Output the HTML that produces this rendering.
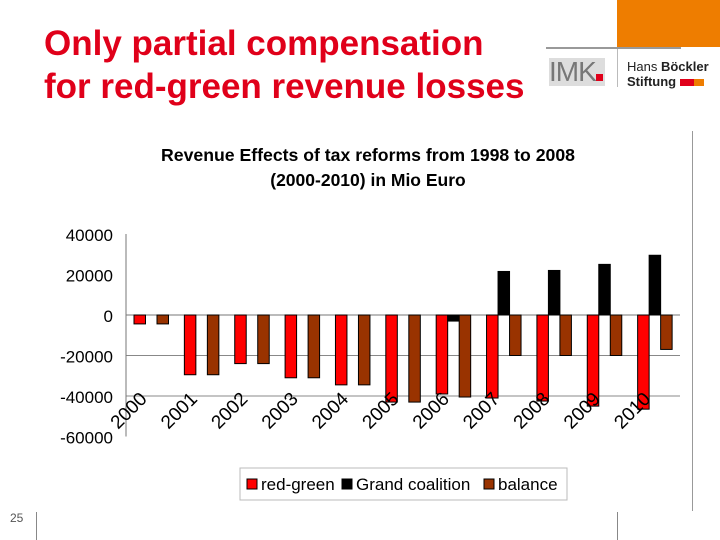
<!DOCTYPE html>
<html><head><meta charset="utf-8"><style>
body{margin:0;width:720px;height:540px;background:#fff;position:relative;overflow:hidden;font-family:"Liberation Sans",Arial,sans-serif}
.abs{position:absolute}
</style></head><body>
<div class="abs" style="left:44px;top:22px;font-size:35px;font-weight:bold;color:#e0001a;line-height:43px">Only partial compensation<br>for red-green revenue losses</div>
<div class="abs" style="left:617px;top:0;width:103px;height:47px;background:#ee7d00"></div>
<div class="abs" style="left:546px;top:47px;width:135px;height:2px;background:#999"></div>
<div class="abs" style="left:617px;top:49px;width:1px;height:38px;background:#bbb"></div>
<div class="abs" style="left:549px;top:58px;width:56px;height:28px;background:#ddd;font-size:28px;color:#777;line-height:28px;letter-spacing:-1px">IMK<span style="display:inline-block;width:7px;height:7px;background:#e0001a"></span></div>
<div class="abs" style="left:627px;top:59px;font-size:13px;line-height:15px;color:#222">Hans <b>Böckler</b><br><b>Stiftung</b> <span style="display:inline-block;width:14px;height:7px;background:#e0001a"></span><span style="display:inline-block;width:10px;height:7px;background:#ee7d00"></span></div>
<div class="abs" style="left:692px;top:131px;width:1px;height:380px;background:#999"></div>
<div class="abs" style="left:10px;top:511px;font-size:12px;color:#555">25</div>
<div class="abs" style="left:36px;top:512px;width:1px;height:28px;background:#888"></div>
<div class="abs" style="left:617px;top:512px;width:1px;height:28px;background:#888"></div>
<svg class="abs" style="left:0;top:0" width="720" height="540" id="chart">
<text x="368" y="161" text-anchor="middle" font-size="17.5" font-weight="bold" textLength="414" lengthAdjust="spacingAndGlyphs">Revenue Effects of tax reforms from 1998 to 2008</text>
<text x="368" y="186" text-anchor="middle" font-size="17.5" font-weight="bold">(2000-2010) in Mio Euro</text>
<rect x="240" y="468" width="327" height="32" fill="#fff" stroke="#bbb"/>
</svg>
<script>
const categories=["2000","2001","2002","2003","2004","2005","2006","2007","2008","2009","2010"];
const redGreen=[-4400,-29500,-24000,-31000,-34500,-43000,-39000,-41000,-42500,-45000,-46500];
const grandCoalition=[0,0,0,0,0,0,-3000,21500,22000,25000,29500];
const balance=[-4400,-29500,-24000,-31000,-34500,-43000,-40500,-20000,-20000,-20000,-17000];
const yTicks=[40000,20000,0,-20000,-40000,-60000];
const NS="http://www.w3.org/2000/svg";
const svg=document.getElementById('chart');
const x0=126,x1=680,cw=(x1-x0)/categories.length;
function y(v){return 315-v*40.5/20000;}
function mk(t,a){const e=document.createElementNS(NS,t);for(const k in a)e.setAttribute(k,a[k]);svg.appendChild(e);return e;}
yTicks.forEach(v=>{
 if(v<0&&v>-60000){const l=mk('line',{x1:x0,x2:x1,y1:y(v),y2:y(v),stroke:'#888'});
 
 }
 const t=mk('text',{x:113,y:y(v)+7,'text-anchor':'end','font-size':17});t.textContent=v;
 
 
});
const z=mk('line',{x1:x0,x2:x1,y1:y(0),y2:y(0),stroke:'#777'});


const ax=mk('line',{x1:x0,x2:x0,y1:y(40000),y2:y(-60000),stroke:'#777'});


const bw=11.5;
const series=[[redGreen,'#ff0000','bar-red-green'],[grandCoalition,'#000','bar-grand-coalition'],[balance,'#993300','bar-balance']];
categories.forEach((c,i)=>{
 const bx=x0+i*cw+8;
 series.forEach((s,j)=>{
  const v=s[0][i];if(v===0)return;
  const r=mk('rect',{x:bx+j*bw,y:Math.min(y(0),y(v)),width:bw,height:Math.abs(y(v)-y(0)),fill:s[1],stroke:'#000','stroke-width':1});
  
  
 });
 const t=mk('text',{x:0,y:0,'font-size':19,transform:`translate(${x0+i*cw+22},${400}) rotate(-45)`,'text-anchor':'end'});
 t.textContent=c;
 
 
});
const leg=[['red-green','#ff0000',247],['Grand coalition','#000',342],['balance','#993300',484]];
leg.forEach(l=>{
 const r=mk('rect',{x:l[2],y:479,width:10,height:10,fill:l[1],stroke:'#000'});
 
 
 const t=mk('text',{x:l[2]+14,y:490,'font-size':17});t.textContent=l[0];
 
 
});
</script>
</body></html>
